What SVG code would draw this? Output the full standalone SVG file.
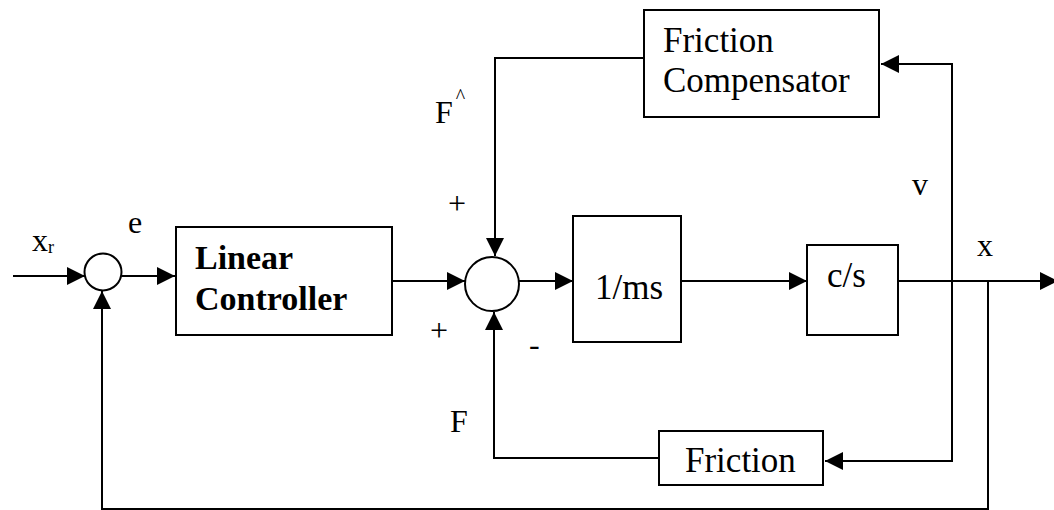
<svg xmlns="http://www.w3.org/2000/svg" width="1054" height="510" viewBox="0 0 1054 510">
<style>
.box{fill:#fff;stroke:#000;stroke-width:2}
.ln{fill:none;stroke:#000;stroke-width:2}
.t{font-family:"Liberation Serif","Times New Roman",serif;font-size:35px;fill:#000}
.b{font-weight:bold;font-size:34px}
.lbl{font-family:"Liberation Serif","Times New Roman",serif;font-size:32px;fill:#000}
</style>
<defs>
<marker id="ah" markerUnits="userSpaceOnUse" markerWidth="18" markerHeight="18" refX="18" refY="9" orient="auto">
<path d="M0,0 L18,9 L0,18 Z" fill="#000"/>
</marker>
</defs>
<rect width="1054" height="510" fill="#fff"/>
<g id="connectors">
<line class="ln" x1="13" y1="276" x2="85" y2="276" marker-end="url(#ah)"/>
<line class="ln" x1="122" y1="276" x2="175" y2="276" marker-end="url(#ah)"/>
<line class="ln" x1="392" y1="281" x2="465" y2="281" marker-end="url(#ah)"/>
<line class="ln" x1="519" y1="281" x2="573" y2="281" marker-end="url(#ah)"/>
<line class="ln" x1="681" y1="281" x2="807" y2="281" marker-end="url(#ah)"/>
<line class="ln" x1="898" y1="281" x2="1058" y2="281" marker-end="url(#ah)"/>
<polyline class="ln" points="644,58 495,58 495,256" marker-end="url(#ah)"/>
<polyline class="ln" points="952,281 952,64 881,64" marker-end="url(#ah)"/>
<polyline class="ln" points="952,281 952,461 825,461" marker-end="url(#ah)"/>
<polyline class="ln" points="659,458 494,458 494,312" marker-end="url(#ah)"/>
<polyline class="ln" points="988,281 988,509 102,509 102,291" marker-end="url(#ah)"/>
</g>
<g id="sum1"><circle class="box" cx="103" cy="272" r="18.5"/></g>
<g id="sum2"><circle class="box" cx="492" cy="284" r="27"/></g>
<g id="linear-controller">
<rect class="box" x="176" y="227" width="216" height="108"/>
<text class="t b" x="195" y="269">Linear</text>
<text class="t b" x="195" y="310">Controller</text>
</g>
<g id="plant-mass">
<rect class="box" x="573" y="216" width="108" height="126"/>
<text class="t" x="595" y="299">1/ms</text>
</g>
<g id="integrator">
<rect class="box" x="807" y="245" width="91" height="90"/>
<text class="t" x="827" y="287">c/s</text>
</g>
<g id="friction-compensator">
<rect class="box" x="644" y="10" width="235" height="107"/>
<text class="t" x="663" y="52">Friction</text>
<text class="t" x="663" y="92">Compensator</text>
</g>
<g id="friction">
<rect class="box" x="659" y="431" width="164" height="54"/>
<text class="t" x="685" y="472">Friction</text>
</g>
<g id="labels">
<text class="lbl" x="32" y="251">x<tspan font-size="18" dy="2">r</tspan></text>
<text class="lbl" x="128" y="233">e</text>
<text class="lbl" x="435" y="123">F<tspan font-size="20" dx="3" dy="-20">^</tspan></text>
<text class="lbl" x="448" y="214">+</text>
<text class="lbl" x="430" y="341">+</text>
<text class="lbl" x="529" y="355">-</text>
<text class="lbl" x="450" y="432">F</text>
<text class="lbl" x="912" y="195">v</text>
<text class="lbl" x="977" y="256">x</text>
</g>
</svg>
